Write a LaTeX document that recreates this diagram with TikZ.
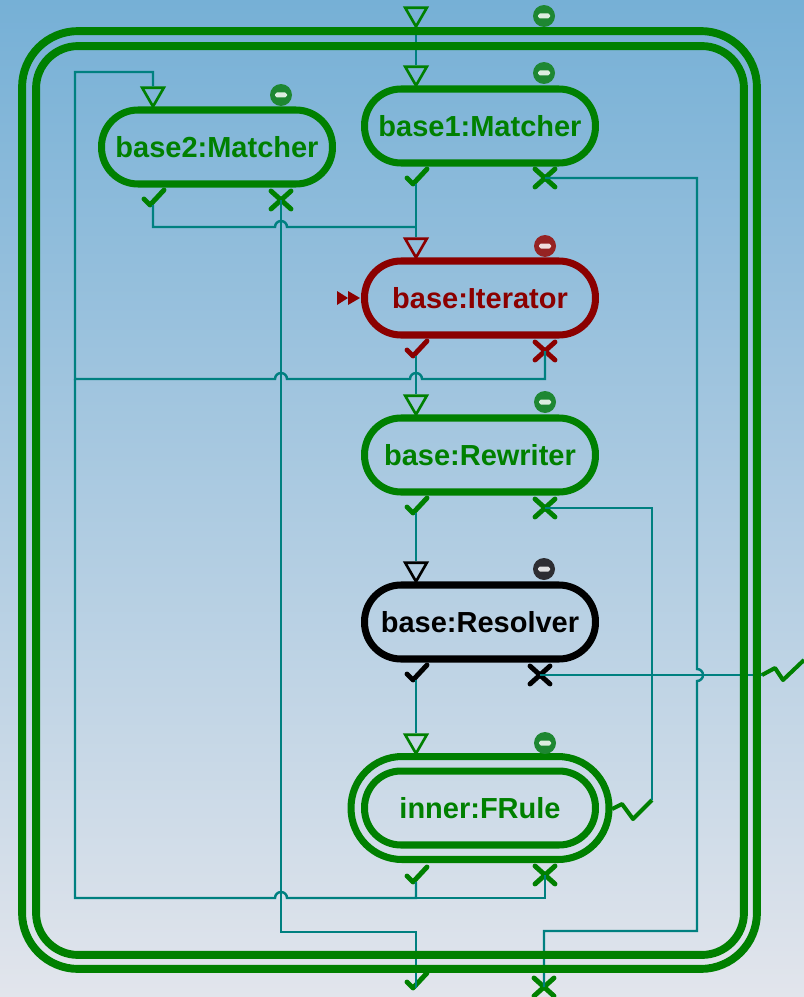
\documentclass[tikz,border=0pt]{standalone}
\usepackage{fontspec}
\setmainfont{Liberation Sans}
\usepackage{xcolor}
\usepackage{tikz}
\usetikzlibrary{shapes.geometric}
\definecolor{okgreen}{RGB}{0, 128, 0}
\definecolor{itred}{RGB}{139, 0, 0}
\definecolor{wireteal}{RGB}{0, 128, 128}
\definecolor{dotgreen}{RGB}{30, 135, 50}
\definecolor{dotred}{RGB}{150, 35, 35}
\definecolor{dotblack}{RGB}{45, 45, 50}
\definecolor{bgtop}{RGB}{118, 176, 214}
\definecolor{bgmid}{RGB}{156, 183, 227}
\definecolor{bgbot}{RGB}{226, 229, 236}

\begin{document}
\begin{tikzpicture}[x=0.02cm, y=-0.02cm,
  pill/.style   = {rectangle, rounded corners=0.73cm, draw=#1, text=#1, line width=4pt,
                   minimum width=4.62cm, minimum height=1.48cm, inner sep=0pt,
                   font=\fontsize{16.5}{18}\selectfont\bfseries},
  ring/.style   = {rectangle, draw=okgreen, line width=4.5pt, inner sep=0pt},
  intri/.style  = {regular polygon, regular polygon sides=3, shape border rotate=180,
                   draw=#1, line width=1.5pt, minimum size=0.5cm, inner sep=0pt},
  minus/.style  = {circle, fill=#1, minimum size=0.44cm, inner sep=0pt,
                   path picture={\fill[white!85!#1, rounded corners=1pt]
                     ([shift={(-6,-2.5)}]path picture bounding box.center) rectangle
                     ([shift={(6,2.5)}]path picture bounding box.center);}},
  okmark/.style = {minimum size=0.8cm, inner sep=0pt,
                   path picture={\draw[#1, line width=2.8pt, line cap=round, line join=round,
                     shift={(path picture bounding box.center)}]
                     (-9,-6) -- (-3,0) -- (11,-15);}},
  nomark/.style = {minimum size=0.8cm, inner sep=0pt,
                   path picture={\draw[#1, line width=2.8pt, line cap=round,
                     shift={(path picture bounding box.center)}]
                     (-10,-9) -- (10,9) (-10,9) -- (10,-9);}},
  zzwire/.style = {minimum size=1.8cm, inner sep=0pt,
                   path picture={\draw[okgreen, line width=2.3pt, line join=round,
                     shift={(path picture bounding box.center)}]
                     (0,0) -- (-19,19) -- (-30,4) -- (-40,9);}},
  zzedge/.style = {minimum size=1.8cm, inner sep=0pt,
                   path picture={\draw[okgreen, line width=2.3pt, line join=round,
                     shift={(path picture bounding box.center)}]
                     (0,0) -- (13,-7) -- (21,5) -- (42,-15);}},
  gomark/.style = {minimum size=0.6cm, inner sep=0pt,
                   path picture={\fill[itred, shift={(path picture bounding box.center)}]
                     (-11,-7) -- (0,0) -- (-11,7) -- cycle
                     (0,-7) -- (12,0) -- (0,7) -- cycle;}},
  wire/.style   = {draw=wireteal, line width=1.4pt}
]
  \useasboundingbox (0,0) rectangle (804,997);
  \shade[top color=bgtop, middle color=bgmid, bottom color=bgbot] (0,0) rectangle (804,997);

  % ---- Components ----
  \node[pill=okgreen] at (480,126) (m1) {base1:Matcher};
  \node[pill=okgreen] at (217,147) (m2) {base2:Matcher};
  \node[pill=itred]   at (480,298) (it) {base:Iterator};
  \node[pill=okgreen] at (480,455) (rw) {base:Rewriter};
  \node[pill=black]   at (480,622) (rs) {base:Resolver};
  \node[pill=okgreen] at (480,808) (fr) {inner:FRule};
  \node[pill=okgreen, minimum width=5.16cm, minimum height=2.06cm,
        rounded corners=1.02cm] at (480,808) (frring) {};

  % ---- Ports: outer rule ----
  \node[intri=okgreen]  at (416,14)  (fin)  {};
  \node[minus=dotgreen] at (544,16)  (fmin) {};
  \node[okmark=okgreen] at (416,988) (fok)  {};
  \node[nomark=okgreen] at (544,987) (fno)  {};
  \node[zzedge]         at (762,675) (fzz)  {};

  % ---- Ports: matchers ----
  \node[intri=okgreen]  at (416,73)  (m1in)  {};
  \node[minus=dotgreen] at (544,73)  (m1min) {};
  \node[okmark=okgreen] at (416,184) (m1ok)  {};
  \node[nomark=okgreen] at (545,178) (m1no)  {};
  \node[intri=okgreen]  at (153,94)  (m2in)  {};
  \node[minus=dotgreen] at (281,95)  (m2min) {};
  \node[okmark=okgreen] at (153,205) (m2ok)  {};
  \node[nomark=okgreen] at (281,200) (m2no)  {};

  % ---- Ports: iterator ----
  \node[intri=itred]    at (416,245) (itin)  {};
  \node[minus=dotred]   at (545,246) (itmin) {};
  \node[okmark=itred]   at (416,356) (itok)  {};
  \node[nomark=itred]   at (545,351) (itno)  {};
  \node[gomark]         at (348,298) (itgo)  {};

  % ---- Ports: rewriter / resolver / frule ----
  \node[intri=okgreen]  at (416,402) (rwin)  {};
  \node[minus=dotgreen] at (545,402) (rwmin) {};
  \node[okmark=okgreen] at (416,513) (rwok)  {};
  \node[nomark=okgreen] at (545,508) (rwno)  {};
  \node[intri=black]    at (416,569) (rsin)  {};
  \node[minus=dotblack] at (544,569) (rsmin) {};
  \node[okmark=black]   at (416,680) (rsok)  {};
  \node[nomark=black]   at (540,675) (rsno)  {};
  \node[intri=okgreen]  at (416,741) (frin)  {};
  \node[minus=dotgreen] at (545,743) (frmin) {};
  \node[okmark=okgreen] at (416,882) (frok)  {};
  \node[nomark=okgreen] at (545,875) (frno)  {};
  \node[zzwire]         at (652,800) (frzz)  {};

  % ---- Wires ----
  \draw[wire] (fin.south) -- (m1in.north);
  \draw[wire] (m1ok.center) -- (itin.north);
  \draw[wire] (m2ok.center) |- (275,227) arc[start angle=180, end angle=360, radius=6]
              -- (m1ok.center |- 0,227);
  \draw[wire] (m2no.center) -- (m2no.center |- 0,932) -| (fok.center);
  \draw[wire] (m1no.center) -| (697,669) arc[start angle=-90, end angle=90, radius=6]
              -- (697,931) -| (fno.center);
  \draw[wire] (itok.center) -- (rwin.north);
  \draw[wire] (itno.center) |- (422,379) arc[start angle=360, end angle=180, radius=6]
              -- (287,379) arc[start angle=360, end angle=180, radius=6]
              -- (75,379) -- (75,72) -| (m2in.north);
  \draw[wire] (frno.center) |- (frok.center |- 0,898);
  \draw[wire] (frok.center) |- (287,898) arc[start angle=360, end angle=180, radius=6]
              -- (75,898) -- (75,379);
  \draw[wire] (rwok.center) -- (rsin.north);
  \draw[wire] (rwno.center) -| (frzz.center);
  \draw[wire] (rsok.center) -- (frin.north);
  \draw[wire] (rsno.center) -- (fzz.center);

  % ---- Outer rule border ----
  \node[ring, minimum width=14.16cm, minimum height=18.18cm, rounded corners=0.84cm]
        at (390,500.5) (frame) {};
  \node[ring, minimum width=14.7cm, minimum height=18.76cm, rounded corners=1.12cm]
        at (389.5,500) (frameo) {};
\end{tikzpicture}
\end{document}
